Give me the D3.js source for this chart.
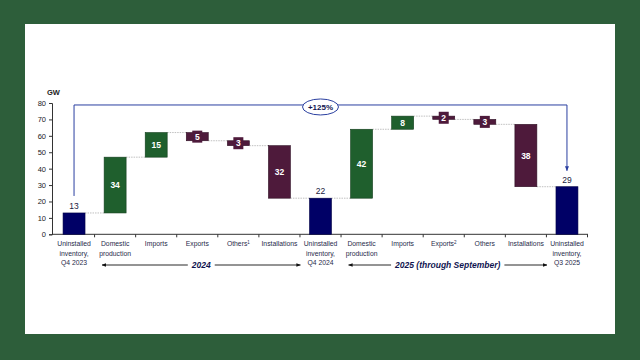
<!DOCTYPE html>
<html>
<head>
<meta charset="utf-8">
<script src="https://cdn.jsdelivr.net/npm/d3@7"></script>
<style>
  body { margin: 0; background: #2d5e3a; }
  svg { display: block; font-family: "Liberation Sans", Arial, sans-serif; }
</style>
</head>
<body>
<svg id="chart" width="640" height="360"></svg>
<script>
// categories (lines of the x labels), superscript marks
var categories = [
	["Uninstalled", "inventory,", "Q4 2023"],
	["Domestic", "production"],
	["Imports"],
	["Exports"],
	["Others|1"],
	["Installations"],
	["Uninstalled", "inventory,", "Q4 2024"],
	["Domestic", "production"],
	["Imports"],
	["Exports|2"],
	["Others"],
	["Installations"],
	["Uninstalled", "inventory,", "Q3 2025"]
];
// "total" = stock bar, otherwise signed flow in GW
var kinds  = ["total", "flow", "flow", "flow", "flow", "flow", "total", "flow", "flow", "flow", "flow", "flow", "total"];
var values = [13, 34, 15, -5, -3, -32, 22, 42, 8, -2, -3, -38, 29];
var yTicks = [0, 10, 20, 30, 40, 50, 60, 70, 80];
var changeLabel = "+125%";
var periods = [
	{label: "2024", from: 1, to: 5},
	{label: "2025 (through September)", from: 7, to: 11}
];

var svg = d3.select("#chart");

// white slide panel
svg.append("rect").attr("x", 25).attr("y", 24).attr("width", 590).attr("height", 310)
	.attr("fill", "#fff");

var x = d3.scaleBand().domain(d3.range(categories.length))
	.range([53.5, 587.5]).paddingInner(0.465).paddingOuter(0.2325);
var y = d3.scaleLinear().domain([0, 80]).range([234.3, 103]);

// build waterfall steps
var level = 0;
var steps = values.map(function(v, i) {
	var s;
	if (kinds[i] == "total") {
		s = {i: i, start: 0, end: v, v: v, kind: "total"};
		level = v;
	} else {
		s = {i: i, start: level, end: level + v, v: v, kind: v >= 0 ? "up" : "down"};
		level = level + v;
	}
	return s;
});

var fills = {total: "#000066", up: "#1f5f2d", down: "#4e1a3b"};
var strokes = {total: "#000044", up: "#123d1c", down: "#2e0f23"};

// y axis
var yAxis = svg.append("g").attr("transform", "translate(52,0)")
	.call(d3.axisLeft(y).tickValues(yTicks).tickSize(3).tickPadding(3));
yAxis.select(".domain").attr("stroke", "#333");
yAxis.selectAll(".tick line").attr("stroke", "#333");
yAxis.selectAll("text").attr("font-size", 7.5).attr("fill", "#222");

svg.append("text").attr("x", 47).attr("y", 95).text("GW")
	.attr("font-size", 7.5).attr("font-weight", "bold").attr("fill", "#222");

// x axis line with ticks at band edges
svg.append("line").attr("x1", 52).attr("x2", 588).attr("y1", y(0)).attr("y2", y(0))
	.attr("stroke", "#333");
svg.selectAll(".xtick").data(d3.range(1, categories.length + 1)).enter().append("line")
	.attr("x1", function(d) { return x(d - 1) + x.bandwidth() + x.step() * x.paddingInner() / 2; })
	.attr("x2", function(d) { return x(d - 1) + x.bandwidth() + x.step() * x.paddingInner() / 2; })
	.attr("y1", y(0)).attr("y2", y(0) + 3).attr("stroke", "#333");

// connector lines
svg.selectAll(".conn").data(steps.slice(0, -1)).enter().append("line")
	.attr("x1", function(d) { return x(d.i) + x.bandwidth(); })
	.attr("x2", function(d) { return x(d.i + 1); })
	.attr("y1", function(d) { return y(d.end); })
	.attr("y2", function(d) { return y(d.end); })
	.attr("stroke", "#b0b0b0").attr("stroke-width", 0.8).attr("stroke-dasharray", "1.5,1");

// bars
svg.selectAll(".bar").data(steps).enter().append("rect")
	.attr("x", function(d) { return x(d.i); })
	.attr("width", x.bandwidth())
	.attr("y", function(d) { return y(Math.max(d.start, d.end)); })
	.attr("height", function(d) { return Math.abs(y(d.start) - y(d.end)); })
	.attr("fill", function(d) { return fills[d.kind]; })
	.attr("stroke", function(d) { return strokes[d.kind]; })
	.attr("stroke-width", 0.6);

// label backgrounds for thin bars
var thin = steps.filter(function(d) { return d.kind != "total" && Math.abs(d.v) < 6; });
svg.selectAll(".lblbg").data(thin).enter().append("rect")
	.attr("x", function(d) { return x(d.i) + x.bandwidth() / 2 - 5; })
	.attr("width", 10)
	.attr("y", function(d) { return y((d.start + d.end) / 2) - 6; })
	.attr("height", 12)
	.attr("fill", function(d) { return fills[d.kind]; });

// value labels
svg.selectAll(".val").data(steps).enter().append("text")
	.attr("x", function(d) { return x(d.i) + x.bandwidth() / 2; })
	.attr("y", function(d) {
		if (d.kind == "total") return y(d.end) - 4;
		return y((d.start + d.end) / 2) + 3;
	})
	.attr("text-anchor", "middle").attr("font-size", 8.5)
	.attr("font-weight", function(d) { return d.kind == "total" ? "normal" : "bold"; })
	.attr("fill", function(d) { return d.kind == "total" ? "#1a1a40" : "#fff"; })
	.text(function(d) { return Math.abs(d.v); });

// category labels
var cat = svg.selectAll(".cat").data(categories).enter().append("text")
	.attr("text-anchor", "middle").attr("font-size", 6.8).attr("fill", "#1f2a4a")
	.attr("transform", function(d, i) { return "translate(" + (x(i) + x.bandwidth() / 2) + ",246)"; });
cat.each(function(lines) {
	var t = d3.select(this);
	lines.forEach(function(l, k) {
		var parts = l.split("|");
		var ts = t.append("tspan").attr("x", 0).attr("dy", k == 0 ? 0 : 9.5).text(parts[0]);
		if (parts[1]) {
			t.append("tspan").attr("font-size", 4.5).attr("dy", -2.5).text(parts[1]);
			t.append("tspan").attr("font-size", 6.8).attr("dy", 2.5).text("");
		}
	});
});

// period arrows
var defs = svg.append("defs");
defs.append("marker").attr("id", "ah").attr("viewBox", "0 0 10 10")
	.attr("refX", 9).attr("refY", 5).attr("markerWidth", 5).attr("markerHeight", 5)
	.attr("orient", "auto-start-reverse")
	.append("path").attr("d", "M0,1L10,5L0,9Z").attr("fill", "#111");
defs.append("marker").attr("id", "ahb").attr("viewBox", "0 0 10 10")
	.attr("refX", 9).attr("refY", 5).attr("markerWidth", 5).attr("markerHeight", 5)
	.attr("orient", "auto")
	.append("path").attr("d", "M0,1L10,5L0,9Z").attr("fill", "#2a3fa0");

periods.forEach(function(p) {
	var x0 = x(p.from) - 2, x1 = x(p.to) + x.bandwidth() + 10;
	var cx = (x0 + x1) / 2;
	var txt = svg.append("text").attr("x", cx).attr("y", 268).attr("text-anchor", "middle")
		.attr("font-size", 8.5).attr("font-weight", "bold").attr("font-style", "italic")
		.attr("fill", "#0f1450").text(p.label);
	var w = txt.node().getComputedTextLength();
	svg.append("line").attr("x1", cx - w / 2 - 4).attr("x2", x0).attr("y1", 265).attr("y2", 265)
		.attr("stroke", "#111").attr("stroke-width", 0.9).attr("marker-end", "url(#ah)");
	svg.append("line").attr("x1", cx + w / 2 + 4).attr("x2", x1).attr("y1", 265).attr("y2", 265)
		.attr("stroke", "#111").attr("stroke-width", 0.9).attr("marker-end", "url(#ah)");
});

// +125% bracket
var first = steps[0], last = steps[steps.length - 1];
var bx0 = x(first.i) + x.bandwidth() / 2, bx1 = x(last.i) + x.bandwidth() / 2;
var by = y(78.8);
svg.append("path")
	.attr("d", "M" + bx0 + "," + (y(first.end) - 17) + "V" + by + "H" + bx1 + "V" + (y(last.end) - 16))
	.attr("fill", "none").attr("stroke", "#2a3fa0").attr("stroke-width", 1)
	.attr("marker-end", "url(#ahb)");
var ex = (x(6) + x.bandwidth() / 2 + 34);
svg.append("ellipse").attr("cx", 320.5).attr("cy", by + 2).attr("rx", 18).attr("ry", 8)
	.attr("fill", "#fff").attr("stroke", "#2a3fa0").attr("stroke-width", 1);
svg.append("text").attr("x", 320.5).attr("y", by + 5).attr("text-anchor", "middle")
	.attr("font-size", 8).attr("font-weight", "bold").attr("fill", "#0f1450").text(changeLabel);
</script>
</body>
</html>
